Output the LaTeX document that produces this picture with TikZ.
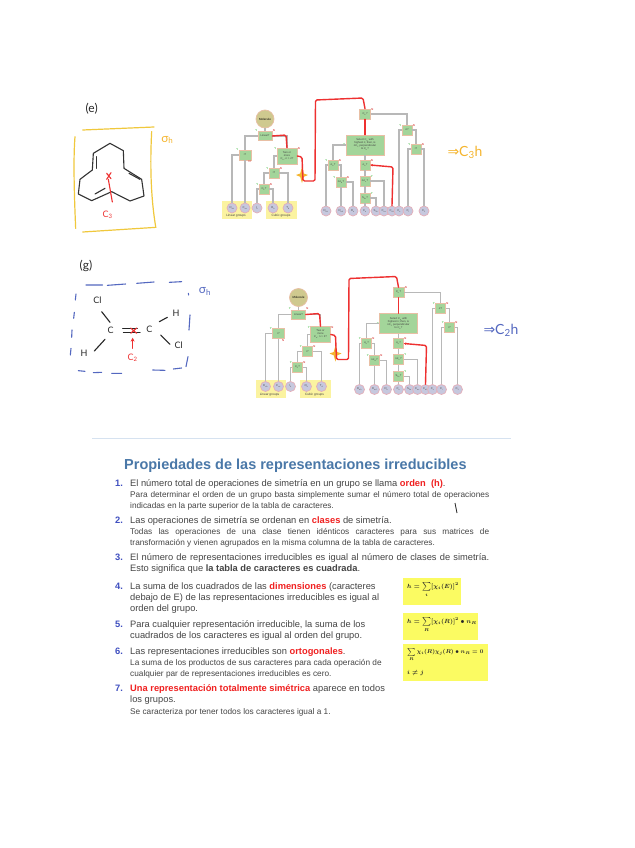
\documentclass[tikz,border=0pt]{standalone}
\usepackage{graphicx}
\usepackage{fontspec}
\setmainfont{Liberation Sans}
\newfontfamily\hand{Lato}
\newfontfamily\handsym{DejaVu Sans}
\usetikzlibrary{shapes.geometric,arrows.meta}
\definecolor{txtgray}{HTML}{454545}
\definecolor{redk}{HTML}{F02020}
\definecolor{numblue}{HTML}{3F4FC0}
\definecolor{titleblue}{HTML}{4A78A8}
\definecolor{hlyellow}{HTML}{FBFB62}
\definecolor{frameyellow}{HTML}{F0C83C}
\definecolor{handorange}{HTML}{F5B52E}
\definecolor{handblue}{HTML}{5468C0}
\definecolor{penred}{HTML}{EE3030}
\definecolor{boxgreen}{HTML}{A3D59A}
\definecolor{boxedge}{HTML}{E8BFA4}
\definecolor{leaffill}{HTML}{C6C8DE}
\definecolor{leafedge}{HTML}{E4AEB8}
\definecolor{molfill}{HTML}{CFC98F}
\definecolor{linegray}{HTML}{B8B8B8}
\definecolor{softyellow}{HTML}{FBF3A0}
\definecolor{rulecol}{HTML}{D6E2F0}
\tikzset{
  x=1bp,y=-1bp,
  fbox/.style={draw=boxedge,fill=boxgreen,line width=.6bp,inner sep=0pt,minimum width=#1,align=center,font=\fontsize{2.7}{3}\selectfont,text=black!75},
  leaf/.style={circle,draw=leafedge,fill=leaffill,line width=.7bp,minimum size=10bp,inner sep=0pt,font=\fontsize{2.8}{3}\selectfont,text=black!70},
  edgeg/.style={draw=linegray,line width=1.2bp},
  redp/.style={draw=penred,line width=1.4bp,line join=round,line cap=round,rounded corners=1.5bp},
  yes/.style={text=green!65!black,font=\fontsize{2.8}{3}\selectfont,inner sep=.3bp},
  no/.style={text=red!80!black,font=\fontsize{2.8}{3}\selectfont,inner sep=.3bp},
  groupbg/.style={fill=softyellow,draw=none},
  grouplabel/.style={font=\fontsize{3.2}{4}\selectfont,text=black!75,inner sep=0pt},
  body/.style={anchor=base west,inner sep=0pt,text=txtgray,font=\fontsize{9.35}{10}\selectfont},
  sub/.style={anchor=base west,inner sep=0pt,text=txtgray,font=\fontsize{8.3}{9}\selectfont},
  num/.style={anchor=base west,inner sep=0pt,text=numblue,font=\fontsize{9.35}{10}\selectfont\bfseries},
  handp/.style={line width=1.1bp,line cap=round,line join=round},
  handt/.style={inner sep=0pt},
  handbig/.style={handt,font=\hand\fontsize{12}{12}\selectfont},
  handsig/.style={handt,font=\hand\fontsize{12}{12}\selectfont},
  handatom/.style={handt,text=black!85,font=\hand\fontsize{9}{9}\selectfont},
  handres/.style={handt,font=\hand\fontsize{14}{14}\selectfont},
  formula/.style={anchor=west,inner sep=0pt,text=black!85,font=\fontsize{7}{8}\selectfont},
}
\newcommand{\ts}[1]{\textsubscript{#1}}
\newcommand{\RK}[1]{\textcolor{redk}{\bfseries #1}}
\newcommand{\flowchart}[3]{%
\begin{scope}[shift={(#1)},name prefix=#2-]
  \fill[groupbg] (222,201) rectangle (252,219);
  \fill[groupbg] (266,201) rectangle (297,219);
  \node[grouplabel] (lg) at (236,216) {Linear groups};
  \node[grouplabel] (cg) at (281,216) {Cubic groups};
  \node[circle,draw=boxedge,fill=molfill,line width=.7bp,minimum size=18bp,inner sep=0pt,font=\fontsize{3}{3}\selectfont] (mol) at (265,119) {Molecule};
  \node[fbox=14bp,minimum height=9bp,label={[yes]150:Y},label={[no]30:N}] (lin) at (265,136) {Linear?};
  \node[fbox=12bp,minimum height=10bp,label={[yes]150:Y},label={[no]-60:N}] (i1) at (245,155) {i?};
  \node[fbox=20bp,minimum height=16bp,label={[yes]150:Y},label={[no]30:N}] (test) at (287,156) {Two or\\more\\C\ts{n}, n > 2?};
  \node[fbox=10bp,minimum height=10bp,label={[yes]150:Y},label={[no]30:N}] (i2) at (274,173) {i?};
  \node[fbox=10bp,minimum height=10bp,label={[yes]150:Y},label={[no]30:N}] (c5) at (264,189) {C\ts{5}?};
  \node[leaf] (Dinf) at (232,208) {D\ts{∞h}};
  \node[leaf] (Cinf) at (245,208) {C\ts{∞v}};
  \node[leaf] (Ih) at (257,208) {I\ts{h}};
  \node[leaf] (Oh) at (273,208) {O\ts{h}};
  \node[leaf] (Td) at (288,208) {T\ts{d}};
  \node[fbox=11bp,minimum height=10bp,label={[no]30:N}] (cn) at (365,114) {C\ts{n}?};
  \node[fbox=38bp,minimum height=20bp,label={[yes]180:Y}] (sel) at (365,145) {Select C\ts{n} with\\highest n; then, is\\nC\ts{2} perpendicular\\to C\ts{n}?};
  \node[fbox=10bp,minimum height=10bp,label={[yes]150:Y},label={[no]30:N}] (sh1) at (333,165) {σ\ts{h}?};
  \node[fbox=10bp,minimum height=10bp,label={[yes]150:Y},label={[no]30:N}] (nsd) at (341,182) {nσ\ts{d}?};
  \node[fbox=10bp,minimum height=10bp,label={[no]30:N}] (sh2) at (365,165) {σ\ts{h}?};
  \node[fbox=10bp,minimum height=10bp,label={[yes]30:Y}] (nsv) at (365,181) {nσ\ts{v}?};
  \node[fbox=10bp,minimum height=10bp,label={[yes]30:Y}] (s2n) at (365,198) {S\ts{2n}?};
  \node[fbox=10bp,minimum height=10bp,label={[yes]150:Y},label={[no]30:N}] (sig) at (407,130) {σ?};
  \node[fbox=10bp,minimum height=10bp,label={[yes]150:Y},label={[no]30:N}] (i3) at (416,149) {i?};
  \node[leaf] (Dnh) at (326,211) {D\ts{nh}};
  \node[leaf] (Dnd) at (341,211) {D\ts{nd}};
  \node[leaf] (Dn) at (353,211) {D\ts{n}};
  \node[leaf] (Cn) at (365,211) {C\ts{n}};
  \node[leaf] (S2n) at (376,211) {S\ts{2n}};
  \node[leaf] (Cnv) at (384,211) {C\ts{nv}};
  \node[leaf] (Cnh) at (392,211) {C\ts{nh}};
  \node[leaf] (Cs) at (399,211) {C\ts{s}};
  \node[leaf] (Ci) at (408,211) {C\ts{i}};
  \node[leaf] (C1) at (424,211) {C\ts{1}};
  \draw[edgeg] (mol) -- (lin);
  \draw[edgeg] (lin.west) -| (i1.north);
  \draw[edgeg] (lin.east) -| (test.north);
  \draw[edgeg] (i1.west) -| (Dinf.north);
  \draw[edgeg] (i1.south) -- (Cinf.north);
  \draw[edgeg] (test.west) -| (i2.north);
  \draw[edgeg] (i2.west) -| (c5.north);
  \draw[edgeg] (i2.east) -| (Td.north);
  \draw[edgeg] (c5.west) -| (Ih.north);
  \draw[edgeg] (c5.east) -| (Oh.north);
  \draw[edgeg] (cn.east) -| (sig.north);
  \draw[edgeg] (cn) -- (sel);
  \draw[edgeg] (sel.west) -| (sh1.north);
  \draw[edgeg] (sel) -- (sh2);
  \draw[edgeg] (sh1.west) -| (Dnh.north);
  \draw[edgeg] (sh1.east) -| (nsd.north);
  \draw[edgeg] (nsd.south) -- (Dnd.north);
  \draw[edgeg] (nsd.east) -| (Dn.north);
  \draw[edgeg] (sh2) -- (nsv);
  \draw[edgeg] (nsv) -- (s2n);
  \draw[edgeg] (s2n) -- (Cn);
  \draw[edgeg] (nsv.east) -| (Cnv.north);
  \draw[edgeg] (s2n.east) -| (S2n.north);
  \draw[edgeg] (sig.west) -| (Cs.north);
  \draw[edgeg] (sig.east) -| (i3.north);
  \draw[edgeg] (i3.west) -| (Ci.north);
  \draw[edgeg] (i3.east) -| (C1.north);
  \coordinate (ra) at (286,135);
  \coordinate (rb) at (302,157);
  \coordinate (rc) at (303,181);
  \coordinate (rd) at (315,181);
  \coordinate (re) at (315.5,100);
  \coordinate (rf) at (363,98);
  \coordinate (rg) at (393,167);
  \fill[#3] (302,167) -- (303.8,173.5) -- (308,175) -- (303.8,176.8) -- (302,183) -- (300.2,176.8) -- (296,175) -- (300.2,173.5) -- cycle;
  \draw[redp] (lin.east) -- (ra) -- (test.north);
  \draw[redp] (test.east) -- (rb) -- (rc) -- (rd) -- (re) -- (rf) -- (cn.north);
  \draw[redp] (cn.south) -- (sel.north);
  \draw[redp,-{Stealth[length=2.5bp,width=2.5bp]}] (Cnh.north) -- (rg) -- (sh2.east);
\end{scope}}
\begin{document}
\begin{tikzpicture}
\useasboundingbox (0,0) rectangle (635,848);
\fill[white] (0,0) rectangle (635,848);

% ---- handwritten (e)
\begin{scope}[shift={(60,90)},scale=1/3]
  \node[handbig,text=black!85] (elabel) at (95,56) {(e)};
  \draw[handp,frameyellow,line width=1.2bp] (68,120) -- (282,111);
  \draw[handp,frameyellow,line width=1.2bp] (45,140) .. controls (40,200) and (42,300) .. (47,415);
  \draw[handp,frameyellow,line width=1.2bp] (68,426) -- (288,412);
  \draw[handp,frameyellow,line width=1.2bp] (275,125) .. controls (270,220) and (272,320) .. (287,410);
  \node[handsig,text=handorange] (sh1lab) at (322,150) {σ\textsubscript{h}};
  \draw[handp,black!80] (150,160) -- (190,182) -- (192,235) -- (245,268) -- (252,318) -- (210,333) -- (155,305) -- (95,332) -- (55,312) -- (60,268) -- (97,240) -- (100,190) -- cycle;
  \draw[handp,black!80] (110,200) -- (110,235);
  \draw[handp,black!80] (207,250) -- (240,268);
  \draw[handp,black!80] (105,312) -- (135,295);
  \draw[handp,penred] (140,250) -- (153,266) (153,248) -- (140,268);
  \draw[handp,penred] (145,268) -- (157,336);
  \node[handatom,text=penred] (c3lab) at (143,375) {C\textsubscript{3}};
\end{scope}

% ---- handwritten (g)
\begin{scope}[shift={(60,250)},scale=1/3]
  \node[handbig,text=black!85] (glabel) at (78,47) {(g)};
  \draw[handp,handblue] (78,105) -- (128,105) (142,106) -- (197,102) (230,100) -- (282,96) (328,97) -- (365,95);
  \draw[handp,handblue] (48,132) -- (46,150) (43,187) -- (41,205) (36,240) -- (35,262) (33,295) -- (31,315);
  \draw[handp,handblue] (385,130) -- (386,135) (390,195) -- (387,240) (384,320) -- (378,350);
  \draw[handp,handblue] (55,362) -- (75,364) (100,368) -- (125,367) (155,370) -- (185,370) (278,360) -- (315,361) (340,357) -- (365,354);
  \node[handsig,text=handblue] (sh2lab) at (435,125) {σ\textsubscript{h}};
  \node[handatom] (cl1) at (112,150) {Cl};
  \node[handatom] (c1) at (152,242) {C};
  \node[handatom] (h1) at (72,310) {H};
  \node[handatom] (c2) at (268,237) {C};
  \node[handatom] (h2) at (348,190) {H};
  \node[handatom] (cl2) at (356,285) {Cl};
  \draw[handp,black!85] (125,185) -- (150,217);
  \draw[handp,black!85] (135,268) -- (103,303);
  \draw[handp,black!85] (298,215) -- (322,202);
  \draw[handp,black!85] (302,255) -- (330,283);
  \draw[handp,black!85] (188,235) -- (232,235) (190,247) -- (240,247);
  \draw[handp,penred] (212,234) -- (230,250) (230,234) -- (212,250);
  \draw[handp,penred,-{Stealth[length=4bp,width=4bp]}] (218,295) -- (218,263);
  \node[handatom,text=penred] (c2lab) at (218,323) {C\textsubscript{2}};
\end{scope}

% ---- flow charts
\flowchart{0,0}{a}{handorange}
\flowchart{33.5,178.5}{b}{handorange}
\node[handres,text=handorange] (res1) at (465,152) {{\handsym ⇒}C\textsubscript{3}h};
\node[handres,text=handblue] (res2) at (501,330) {{\handsym ⇒}C\textsubscript{2}h};

% ---- slide
\draw[draw=rulecol,line width=.8bp] (92,438) -- (511,438);
\node[anchor=base west,inner sep=0pt,text=titleblue,font=\fontsize{14.55}{16}\selectfont\bfseries] (title) at (124,469) {Propiedades de las representaciones irreducibles};

\node[num] (n1) at (115,486) {1.};
\node[body] (l1a) at (130,486) {El número total de operaciones de simetría en un grupo se llama \RK{orden} ~\RK{(h)}.};
\node[sub] (l1b) at (130,497) {\makebox[359bp][s]{Para determinar el orden de un grupo basta simplemente sumar el número total de operaciones}};
\node[sub] (l1c) at (130,508) {indicadas en la parte superior de la tabla de caracteres.};
\node[num] (n2) at (115,523) {2.};
\node[body] (l2a) at (130,523) {Las operaciones de simetría se ordenan en \RK{clases} de simetría.};
\node[sub] (l2b) at (130,534) {\makebox[359bp][s]{Todas las operaciones de una clase tienen idénticos caracteres para sus matrices de}};
\node[sub] (l2c) at (130,545) {transformación y vienen agrupados en la misma columna de la tabla de caracteres.};
\node[num] (n3) at (115,560) {3.};
\node[body] (l3a) at (130,560) {\makebox[359bp][s]{El número de representaciones irreducibles es igual al número de clases de simetría.}};
\node[body] (l3b) at (130,571) {Esto significa que {\bfseries la tabla de caracteres es cuadrada}.};
\node[num] (n4) at (115,589) {4.};
\node[body] (l4a) at (130,589) {La suma de los cuadrados de las \RK{dimensiones} (caracteres};
\node[body] (l4b) at (130,600) {debajo de E) de las representaciones irreducibles es igual al};
\node[body] (l4c) at (130,611.5) {orden del grupo.};
\node[num] (n5) at (115,627) {5.};
\node[body] (l5a) at (130,627) {Para cualquier representación irreducible, la suma de los};
\node[body] (l5b) at (130,638) {cuadrados de los caracteres es igual al orden del grupo.};
\node[num] (n6) at (115,654) {6.};
\node[body] (l6a) at (130,654) {Las representaciones irreducibles son \RK{ortogonales}.};
\node[sub] (l6b) at (130,665) {La suma de los productos de sus caracteres para cada operación de};
\node[sub] (l6c) at (130,676) {cualquier par de representaciones irreducibles es cero.};
\node[num] (n7) at (115,691) {7.};
\node[body] (l7a) at (130,691) {\RK{Una representación totalmente simétrica} aparece en todos};
\node[body] (l7b) at (130,702) {los grupos.};
\node[sub] (l7c) at (130,714) {Se caracteriza por tener todos los caracteres igual a 1.};

\draw[black!85,line width=.8bp] (455,503) -- (457,513);

% ---- formulas
\fill[hlyellow] (403,578) rectangle (461,605);
\fill[hlyellow] (403,613) rectangle (478,640);
\fill[hlyellow] (403,644) rectangle (488,681);
\node[formula] (f1) at (407,590) {\scalebox{.86}{\boldmath$h=\sum\limits_{i}[\chi_i(E)]^2$}};
\node[formula] (f2) at (407,625) {\scalebox{.86}{\boldmath$h=\sum\limits_{R}[\chi_i(R)]^2\bullet n_R$}};
\node[formula] (f3) at (407,655) {\scalebox{.8}{\boldmath$\sum\limits_{R}\chi_i(R)\chi_j(R)\bullet n_R=0$}};
\node[formula] (f4) at (407,673) {\scalebox{.86}{\boldmath$i\neq j$}};
\end{tikzpicture}
\end{document}
